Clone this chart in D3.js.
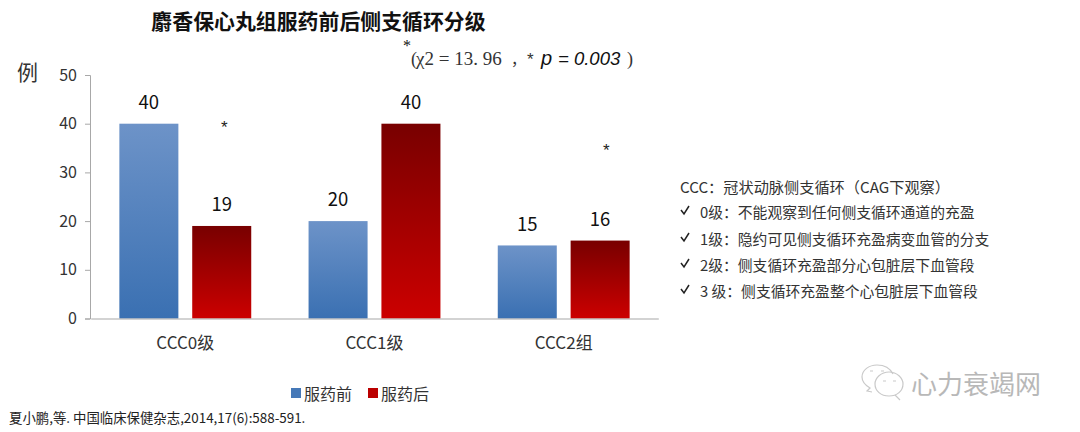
<!DOCTYPE html>
<html><head><meta charset="utf-8">
<script src="https://cdn.jsdelivr.net/npm/d3@7/dist/d3.min.js"></script>
<style>
html,body{margin:0;padding:0;background:#fff;overflow:hidden}
text{font-family:"Noto Sans CJK SC","Noto Sans",sans-serif;fill:#222}
</style></head><body><svg id="c" width="1080" height="432"></svg>
<script>
const categories=["CCC0级","CCC1级","CCC2组"];
const seriesNames=["服药前","服药后"];
const before=[40,20,15];
const after=[19,40,16];
const yTicks=[0,10,20,30,40,50];
const titleText="麝香保心丸组服药前后侧支循环分级";
const noteHead="CCC：冠状动脉侧支循环（CAG下观察）";
const noteItems=["0级：不能观察到任何侧支循环通道的充盈","1级：隐约可见侧支循环充盈病变血管的分支","2级：侧支循环充盈部分心包脏层下血管段","3 级：侧支循环充盈整个心包脏层下血管段"];
const citation="夏小鹏,等. 中国临床保健杂志,2014,17(6):588-591.";
const watermark="心力衰竭网";

const svg=d3.select("#c");
const defs=svg.append("defs");
function grad(id,a,b){const g=defs.append("linearGradient").attr("id",id).attr("x1",0).attr("x2",0).attr("y1",0).attr("y2",1);
 g.append("stop").attr("offset","0%").attr("stop-color",a);g.append("stop").attr("offset","100%").attr("stop-color",b);}
grad("gb","#6d93c8","#3a70b2");
grad("gr","#780000","#cc0000");
const x0=d3.scaleBand().domain(categories).range([90.7,658.3]).paddingInner(0.303).paddingOuter(0.1515);
const x1=d3.scaleBand().domain(seriesNames).range([0,x0.bandwidth()]).paddingInner(0.19);
const y=d3.scaleLinear().domain([0,50]).range([318.5,75]);

const rows=categories.map((c,i)=>[{c,s:seriesNames[0],v:before[i],f:"url(#gb)"},{c,s:seriesNames[1],v:after[i],f:"url(#gr)"}]).flat();
svg.append("g").selectAll("rect").data(rows).join("rect")
 .attr("x",d=>x0(d.c)+x1(d.s)).attr("width",x1.bandwidth())
 .attr("y",d=>y(d.v)).attr("height",d=>y(0)-y(d.v)).attr("fill",d=>d.f);

const labelDy={"CCC0级服药前":-15,"CCC0级服药后":-15,"CCC1级服药前":-15,"CCC1级服药后":-15,"CCC2组服药前":-14,"CCC2组服药后":-15};
svg.append("g").selectAll("text").data(rows).join("text")
 .attr("x",d=>x0(d.c)+x1(d.s)+x1.bandwidth()/2).attr("y",d=>y(d.v)+labelDy[d.c+d.s])
 .attr("text-anchor","middle").attr("font-size",18.5).style("fill","#111").text(d=>d.v);

const ay=svg.append("g").attr("transform","translate(90,0)").call(d3.axisLeft(y).tickValues(yTicks).tickSize(5).tickPadding(8));
const ax=svg.append("g").attr("transform","translate(0,318.5)").call(d3.axisBottom(x0).tickSize(0).tickPadding(18));
ay.select(".domain").attr("stroke","#a8a8a8");ay.selectAll("line").attr("stroke","#a8a8a8");
ax.select(".domain").attr("stroke","#a8a8a8").attr("stroke-width",1.2);
ay.selectAll("text").attr("font-size",16).style("font-family",'"Noto Sans CJK SC"').style("fill","#333");
ax.selectAll("text").attr("font-size",17).style("font-family",'"Noto Sans CJK SC"').style("fill","#333");

function t(x,yy,s,size,o={}){return svg.append("text").attr("x",x).attr("y",yy).attr("font-size",size)
 .attr("text-anchor",o.a||"start").attr("font-weight",o.w||400).style("fill",o.c||"#222").style("font-family",o.f||null).style("font-style",o.i||null).text(s);}
t(318.5,29,titleText,20.9,{a:"middle",w:700,c:"#111"});
t(17,80,"例",21,{c:"#333"});
t(403,51,"*",16,{c:"#111",f:"Liberation Serif"});
t(411,65,"(",18,{f:"Liberation Serif",c:"#333"});
t(416,65,"χ2 = 13. 96",19,{f:"Liberation Serif",c:"#333"});
t(511,65,"，",15,{c:"#333"});
t(527,65,"*",17,{f:"Liberation Sans",c:"#333"});
t(541,65,"p",20,{f:"Liberation Sans",i:"italic",c:"#111"});
t(558,65,"= 0.003",18.5,{f:"Liberation Sans",i:"italic",c:"#111"});
t(627,65,")",18,{f:"Liberation Serif",c:"#333"});
t(221,133,"*",17,{f:"Liberation Sans",c:"#222"});
t(603,156,"*",17,{f:"Liberation Sans",c:"#222"});

t(680,193,noteHead,15.2,{c:"#333"});
const rowsY=[218,245,271,297];
svg.append("g").selectAll("text").data(noteItems).join("text")
 .attr("x",700).attr("y",(d,i)=>rowsY[i]).attr("font-size",14.8).style("fill","#333").text(d=>d);
svg.append("g").selectAll("path").data(rowsY).join("path")
 .attr("d",d=>`M681 ${d-8}l3 4l5 -8`).attr("fill","none").attr("stroke","#222").attr("stroke-width",1.5);

const lg=svg.append("g");
seriesNames.forEach((n,i)=>{
 const lx=[291,368][i];
 lg.append("rect").attr("x",lx).attr("y",388).attr("width",10).attr("height",10).attr("fill",["#4679b8","#bb0000"][i]);
 lg.append("text").attr("x",lx+13).attr("y",400).attr("font-size",16).style("fill","#333").text(n);
});
t(9,423,citation,13.4,{c:"#222"});

const wm=svg.append("g").attr("fill","none").attr("stroke","#c9c9c9").attr("stroke-width",1.2);
wm.append("path").attr("d","M872 392l-5 -1l3 -3c-5 -3 -8 -7 -8 -11c0 -7 7 -12 15 -12c7 0 13 3 16 9");
wm.append("path").attr("d","M889 372c8 0 14 6 14 12c0 7 -6 12 -14 12c-8 0 -14 -5 -14 -12c0 -6 6 -12 14 -12z M895 395l5 5");
wm.append("path").attr("d","M870 371h3M881 371h3M883 381h3M893 381h3");
t(911,394,watermark,26,{c:"#b8b8b8"});
</script></body></html>
